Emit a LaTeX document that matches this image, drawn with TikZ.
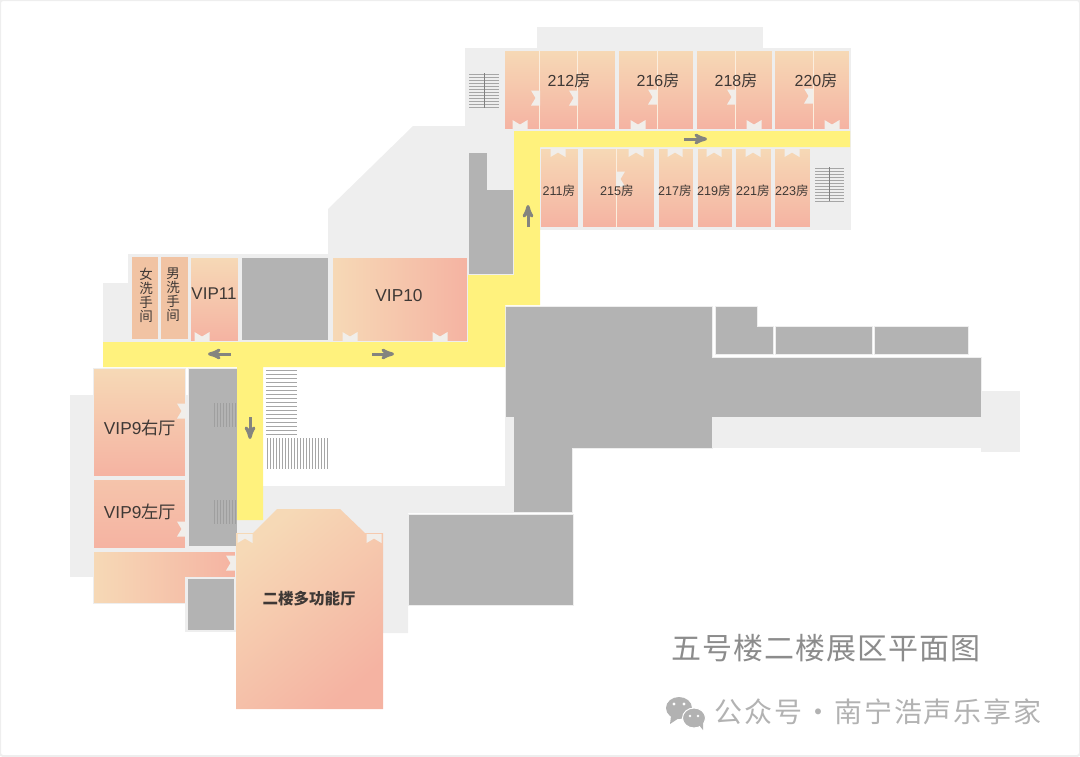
\documentclass[tikz,border=0pt]{standalone}
\usepackage{fontspec}
\setmainfont{Liberation Sans}
\newfontfamily\cjk{Noto Sans CJK SC}
\newfontfamily\cjkwide{Noto Sans CJK SC}[LetterSpace=3.5]
\newfontfamily\cjkmark{Noto Sans CJK SC}[LetterSpace=7]
\usetikzlibrary{arrows}
\definecolor{wallc}{HTML}{EEEEEE}
\definecolor{blockc}{HTML}{B3B3B3}
\definecolor{pathc}{HTML}{FFF27D}
\definecolor{peachc}{HTML}{F6D9B6}
\definecolor{pinkc}{HTML}{F5B3A2}
\definecolor{washc}{HTML}{F1C3A3}
\definecolor{doorc}{HTML}{F1EEEA}
\definecolor{inkc}{HTML}{3E3835}
\definecolor{flowc}{HTML}{84847F}
\tikzset{>=stealth'}
\tikzset{wall/.style={fill=wallc}}
\tikzset{block/.style={fill=blockc,draw=wallc,line width=0.8}}
\tikzset{roomv/.style={top color=peachc,bottom color=pinkc,draw=wallc,line width=0.6}}
\tikzset{roomh/.style={left color=peachc,right color=pinkc,draw=wallc,line width=0.6}}
\tikzset{roomd/.style={top color=peachc,bottom color=pinkc,shading angle=40}}
\tikzset{split/.style={draw=peachc!45!white,line width=0.8}}
\tikzset{flow/.style={->,draw=flowc,line width=3}}
\tikzset{tread/.style={draw=gray!70,line width=1.4}}
\tikzset{lab/.style={inner sep=0pt,text=inkc,font=\fontsize{16}{16}\selectfont}}
\tikzset{viplab/.style={lab,font=\fontsize{17.3}{18}\selectfont}}
\tikzset{smalllab/.style={lab,font=\fontsize{12.6}{13}\selectfont}}
\tikzset{vlab/.style={lab,align=center,font=\cjk\fontsize{13.5}{14.1}\selectfont}}
\tikzset{door/.pic={\fill[doorc] (-7.5,0) -- (7.5,0) -- (7.5,-9) -- (0,-4.5) -- (-7.5,-9) -- cycle;}}
\newcommand{\zh}[1]{{\cjk #1}}

\begin{document}
\begin{tikzpicture}[x=1pt,y=-1pt]
        \useasboundingbox (0,0) rectangle (1080,756);
        \draw[wallc,line width=2,rounded corners=3] (0,0) rectangle (1080,756);

        % light floor
        \path[wall] (537,27) rectangle (763,48);
        \path[wall] (465,48) rectangle (851,131);
        \path[wall] (514,131) rectangle (851,230);
        \path[wall] (413,126) -- (514,126) -- (514,275) -- (467,275) -- (467,257) -- (328,257) -- (328,209) -- cycle;
        \path[wall] (128,254) rectangle (332,342);
        \path[wall] (103,283) rectangle (132,342);
        \path[wall] (70,395) rectangle (237,577);
        \path[wall] (185,577) rectangle (237,632);
        \path[wall] (237,520) -- (263,520) -- (263,486) -- (505,486) -- (505,417) -- (513,417) -- (513,513) -- (408,513) -- (408,633) -- (383,633) -- (383,560) -- (237,560) -- cycle;
        \path[wall] (712,417) rectangle (981,448);
        \path[wall] (981,391) rectangle (1020,452);

        % grey blocks
        \path[block] (468,152) -- (487,152) -- (487,189) -- (513,189) -- (513,274) -- (468,274) -- cycle;
        \path[block] (241,257) rectangle (328,340);
        \path[block] (188,368) rectangle (237,546);
        \path[block] (187,578) rectangle (234,630);
        \path[block] (505,306) -- (712,306) -- (712,357) -- (981,357) -- (981,417) -- (712,417) -- (712,448) -- (572,448) -- (572,512) -- (513,512) -- (513,417) -- (505,417) -- cycle;
        \path[block] (715,306) -- (757,306) -- (757,326) -- (773,326) -- (773,354) -- (715,354) -- cycle;
        \path[block] (775,326) rectangle (872,354);
        \path[block] (874,326) rectangle (968,354);
        \path[block] (408,514) rectangle (573,605);

        % corridor
        \path[fill=pathc] (850,131) -- (850,147) -- (540,147) -- (540,305) -- (505,305) -- (505,367) -- (263,367) -- (263,520) -- (237,520) -- (237,367) -- (103,367) -- (103,342) -- (467,342) -- (467,275) -- (514,275) -- (514,131) -- cycle;

        % stairs
        \foreach \i in {0,...,11} {\draw[tread] (469,74.5+\i*3) -- (499,74.5+\i*3); \draw[tread] (815,168.5+\i*3) -- (844,168.5+\i*3);}
        \draw[gray,line width=1] (484,73) -- (484,108);
        \draw[gray,line width=1] (829.5,167) -- (829.5,201);
        \foreach \i in {0,...,16} {\draw[tread,line width=1.2] (266,370.5+\i*4) -- (297,370.5+\i*4);}
        \foreach \i in {0,...,20} {\draw[tread] (267.5+\i*3,438) -- (267.5+\i*3,469);}
        \foreach \i in {0,...,7} {\draw[gray!75,line width=1.2] (214.5+\i*3,403) -- (214.5+\i*3,427); \draw[gray!75,line width=1.2] (214.5+\i*3,500) -- (214.5+\i*3,524);}

        % upper rooms
        \path[roomv] (504,50) rectangle (615,129);
        \path[roomv] (618,50) rectangle (693,129);
        \path[roomv] (696,50) rectangle (772,129);
        \path[roomv] (774,50) rectangle (849,129);
        \draw[split] (539,50) -- (539,129);
        \draw[split] (577,50) -- (577,129);
        \draw[split] (657,50) -- (657,129);
        \draw[split] (735,50) -- (735,129);
        \draw[split] (813,50) -- (813,129);
        \path[roomv] (540,148) rectangle (578,227);
        \path[roomv] (582,148) rectangle (654,227);
        \path[roomv] (658,148) rectangle (693,227);
        \path[roomv] (697,148) rectangle (732,227);
        \path[roomv] (735,148) rectangle (771,227);
        \path[roomv] (774,148) rectangle (810,227);
        \draw[split] (616,148) -- (616,227);

        % left rooms
        \path[fill=washc] (132,257) rectangle (158,339);
        \path[fill=washc] (161,257) rectangle (188,339);
        \path[roomv] (190,257) rectangle (238,341);
        \path[roomh] (332,257) rectangle (467,341);
        \path[roomv] (93,368) rectangle (185,476);
        \path[roomv,top color=peachc!45!pinkc] (93,479) rectangle (185,548);
        \path[roomh] (93,551) -- (235,551) -- (235,577) -- (185,577) -- (185,603) -- (93,603) -- cycle;
        \path[roomd] (236,533) -- (253,533) -- (277,509) -- (340,509) -- (365,533) -- (383,533) -- (383,709) -- (236,709) -- cycle;

        % doors
        \pic[rotate=90] at (540,98) {door};
        \pic[rotate=90] at (578,98) {door};
        \pic[rotate=90] at (657,97) {door};
        \pic[rotate=90] at (736,97) {door};
        \pic[rotate=90] at (813,96) {door};
        \pic at (520,129) {door};
        \pic at (638,129) {door};
        \pic at (754,129) {door};
        \pic at (832,129) {door};
        \pic[rotate=180] at (558,148) {door};
        \pic[rotate=180] at (636,148) {door};
        \pic[rotate=180] at (675,148) {door};
        \pic[rotate=180] at (714,148) {door};
        \pic[rotate=180] at (753,148) {door};
        \pic[rotate=180] at (792,148) {door};
        \pic[rotate=-90] at (616,179) {door};
        \pic at (202,341) {door};
        \pic at (350,341) {door};
        \pic at (440,341) {door};
        \pic[rotate=90] at (186,411) {door};
        \pic[rotate=90] at (186,529) {door};
        \pic[rotate=90] at (235,563) {door};
        \pic[rotate=180] at (245,534) {door};
        \pic[rotate=180] at (374,534) {door};

        % one way arrows
        \draw[flow] (684,139) -- (707,139);
        \draw[flow] (528,227) -- (528,205);
        \draw[flow] (231,354) -- (208,354);
        \draw[flow] (372,354) -- (394,354);
        \draw[flow] (250,417) -- (250,439);

        % labels
        \node[lab] (r212) at (569,80) {212\zh{房}};
        \node[lab] (r216) at (658,80) {216\zh{房}};
        \node[lab] (r218) at (736,80) {218\zh{房}};
        \node[lab] (r220) at (816,80) {220\zh{房}};
        \node[smalllab] (r211) at (559,191) {211\zh{房}};
        \node[smalllab] (r215) at (617,191) {215\zh{房}};
        \node[smalllab] (r217) at (675,191) {217\zh{房}};
        \node[smalllab] (r219) at (714,191) {219\zh{房}};
        \node[smalllab] (r221) at (753,191) {221\zh{房}};
        \node[smalllab] (r223) at (792,191) {223\zh{房}};
        \node[vlab] (wc1) at (146,295) {女\\洗\\手\\间};
        \node[vlab] (wc2) at (173,295) {男\\洗\\手\\间};
        \node[viplab,font=\fontsize{17}{18}\selectfont] (vip11) at (214,294) {VIP11};
        \node[viplab] (vip10) at (399,296) {VIP10};
        \node[viplab] (vip9r) at (140,428) {VIP9\zh{右厅}};
        \node[viplab] (vip9l) at (140,512) {VIP9\zh{左厅}};
        \node[lab,font=\cjk\bfseries\fontsize{15.5}{16}\selectfont] (hall) at (309,599) {二楼多功能厅};

        \node[inner sep=0pt,anchor=west,text=gray!90,font=\cjkwide\fontsize{30}{31}\selectfont] (title) at (671,648) {五号楼二楼展区平面图};

        % wechat mark
        \fill[gray!60] (679,708) ellipse (13 and 11);
        \fill[gray!60] (671,716) -- (670,724) -- (679,718) -- cycle;
        \fill[gray!60,draw=white,line width=1] (694,718) ellipse (11.5 and 10);
        \fill[gray!60] (699,725) -- (703,730) -- (703,722) -- cycle;
        \fill[white] (674,704) circle (1.6);
        \fill[white] (684,704) circle (1.6);
        \fill[white] (690,716) circle (1.4);
        \fill[white] (698,716) circle (1.4);
        \node[inner sep=0pt,anchor=west,text=gray!60,font=\cjkmark\fontsize{28}{30}\selectfont] (mark) at (714,712) {公众号\hspace{2pt}·\hspace{2pt}南宁浩声乐享家};
    \end{tikzpicture}
\end{document}
